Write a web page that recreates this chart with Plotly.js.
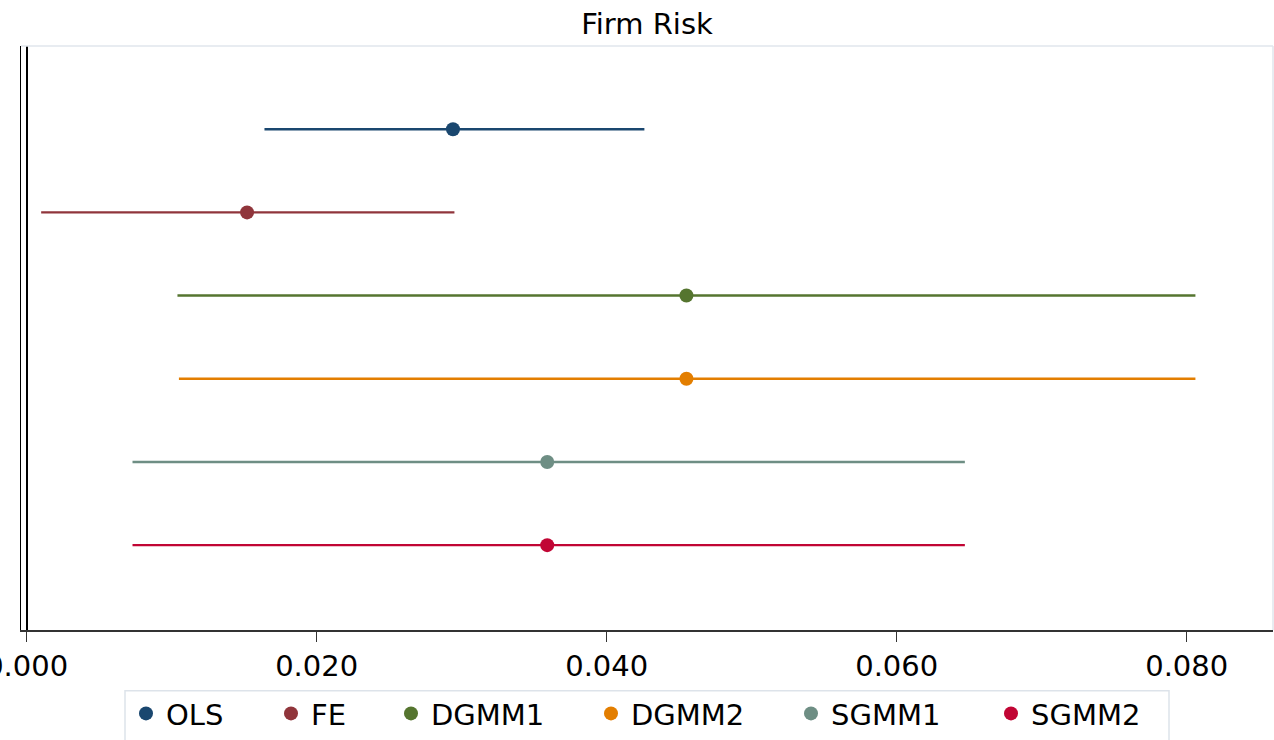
<!DOCTYPE html>
<html>
<head>
<meta charset="utf-8">
<script src="https://cdn.plot.ly/plotly-3.0.1.min.js"></script>
<style>html,body{margin:0;padding:0;background:#fff;}#chart{width:1274px;height:740px;}</style>
</head>
<body>
<div id="chart"></div>
<script>
// ---- data ----
const models  = ['OLS', 'FE', 'DGMM1', 'DGMM2', 'SGMM1', 'SGMM2'];
const coef    = [0.0294, 0.0152, 0.0455, 0.0455, 0.0359, 0.0359];
const ciLow   = [0.0164, 0.0010, 0.0104, 0.0105, 0.0073, 0.0073];
const ciHigh  = [0.0426, 0.0295, 0.0806, 0.0806, 0.0647, 0.0647];
const xTicks  = [0, 0.02, 0.04, 0.06, 0.08];
const chartTitle = 'Firm Risk';

// ---- styles ----
const colors = ['#1a476f', '#90353b', '#55752f', '#e37e00', '#6e8e84', '#c10534'];
const legendMarkerPx = [146, 291, 411, 611, 811, 1011];
const FONT = 'DejaVu Sans, Arial, sans-serif';
const FS = 29;
const W = 1274, H = 740, ML = 21, MR = 1, MT = 46, MB = 107;
const plotW = W - ML - MR, plotH = H - MT - MB;

const traces = models.map((m, i) => ({
  type: 'scatter',
  mode: 'markers',
  name: m,
  x: [coef[i]],
  y: [m],
  marker: {color: colors[i], size: 14, symbol: 'circle', line: {width: 0}},
  error_x: {
    type: 'data', symmetric: false,
    array: [ciHigh[i] - coef[i]],
    arrayminus: [coef[i] - ciLow[i]],
    color: colors[i], thickness: 2.4, width: 0
  },
  legend: i === 0 ? 'legend' : 'legend' + (i + 1),
  showlegend: true,
  hoverinfo: 'x+name'
}));

const layout = {
  width: W, height: H,
  margin: {l: ML, r: MR, t: MT, b: MB, pad: 0},
  paper_bgcolor: '#ffffff',
  plot_bgcolor: '#ffffff',
  showlegend: true,
  title: {
    text: chartTitle,
    font: {family: FONT, size: FS, color: '#000'},
    x: 0.5, xref: 'paper', xanchor: 'center',
    y: 1 - 24 / H, yref: 'container', yanchor: 'middle'
  },
  xaxis: {
    range: [-0.00039, 0.08595],
    tickvals: xTicks,
    tickformat: '.3f',
    ticklabeloverflow: 'allow',
    ticks: 'outside', ticklen: 10, tickwidth: 1.5, tickcolor: '#333',
    tickfont: {family: FONT, size: FS, color: '#000'},
    showgrid: false,
    showline: true, linecolor: '#333', linewidth: 1.5,
    zeroline: true, zerolinecolor: '#000', zerolinewidth: 2,
    fixedrange: true
  },
  yaxis: {
    type: 'category',
    categoryorder: 'array', categoryarray: models,
    range: [6.02, -1.0],
    showticklabels: false, ticks: '',
    showgrid: false, zeroline: false,
    showline: true, linecolor: '#000', linewidth: 1.5,
    fixedrange: true
  },
  shapes: [
    {type: 'line', xref: 'paper', yref: 'paper', x0: 0, x1: 1, y0: 1, y1: 1,
     line: {color: '#e1e6ec', width: 1.5}},
    {type: 'line', xref: 'paper', yref: 'paper', x0: 1, x1: 1, y0: 0, y1: 1,
     line: {color: '#e1e6ec', width: 1.5}},
    {type: 'rect', xref: 'paper', yref: 'paper',
     x0: (125 - ML) / plotW, x1: (1169 - ML) / plotW,
     y0: (MT + plotH - 694) / plotH, y1: (MT + plotH - 770) / plotH,
     line: {color: '#dde3ea', width: 1.5}, fillcolor: 'rgba(0,0,0,0)', layer: 'below'}
  ]
};

models.forEach((m, i) => {
  const key = i === 0 ? 'legend' : 'legend' + (i + 1);
  layout[key] = {
    x: (legendMarkerPx[i] - 20 - ML) / plotW,
    xanchor: 'left',
    y: (MT + plotH - 717) / plotH,
    yanchor: 'middle',
    orientation: 'h',
    bgcolor: 'rgba(0,0,0,0)',
    borderwidth: 0,
    font: {family: FONT, size: FS, color: '#000'},
    itemclick: false, itemdoubleclick: false
  };
});

Plotly.newPlot('chart', traces, layout, {displayModeBar: false, staticPlot: true});
</script>
</body>
</html>
